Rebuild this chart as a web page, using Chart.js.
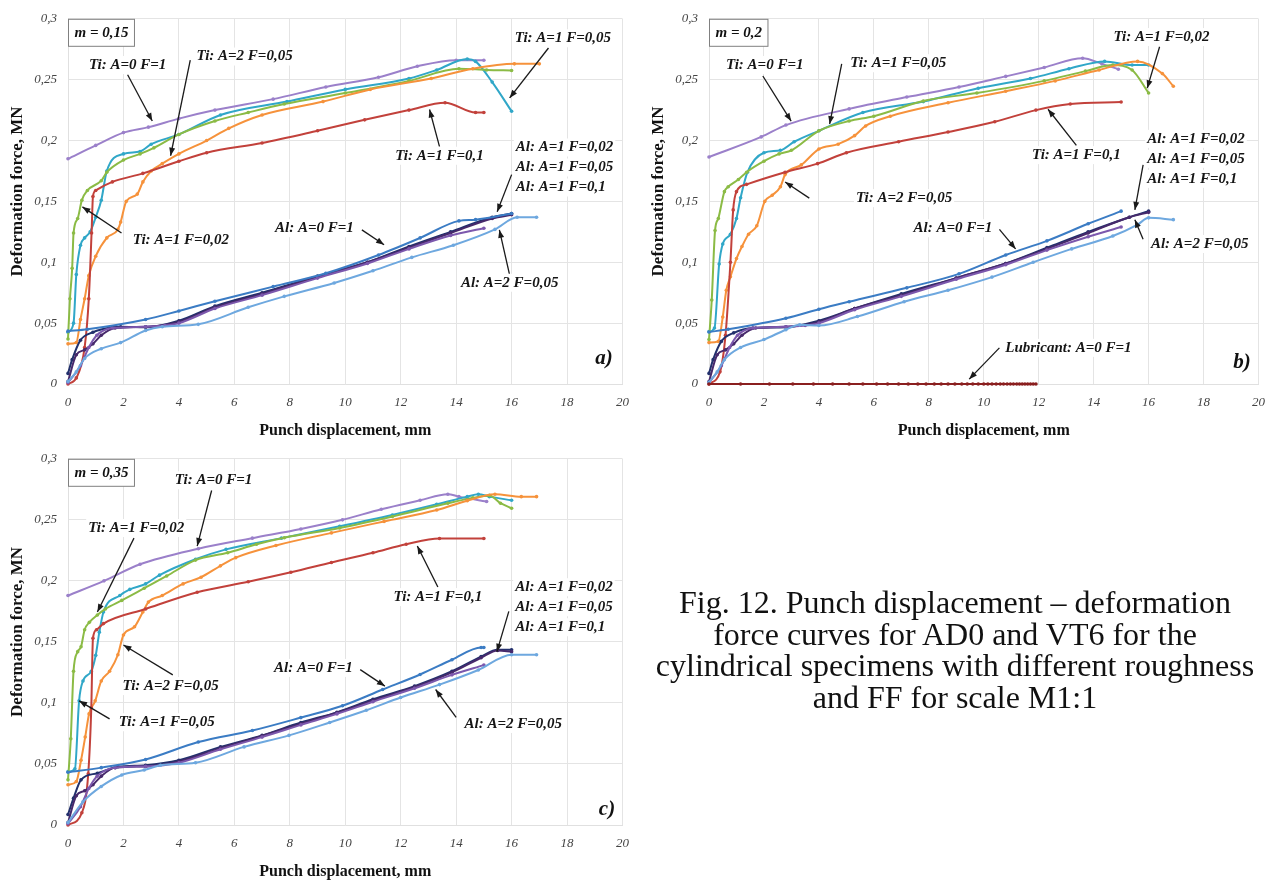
<!DOCTYPE html>
<html>
<head>
<meta charset="utf-8">
<script src="https://cdn.jsdelivr.net/npm/chart.js"></script>
<style>
  body { margin: 0; background: #fff; width: 1276px; height: 881px; position: relative; overflow: hidden; }
  canvas { position: absolute; }
  #cap { position: absolute; left: 615px; top: 587px; width: 680px; text-align: center;
         font: 32px/31.5px "Liberation Serif", "Times New Roman", serif; color: #111; }
</style>
</head>
<body>
<canvas id="ca" width="640" height="445" style="left:0;top:0"></canvas>
<canvas id="cb" width="636" height="445" style="left:640px;top:0"></canvas>
<canvas id="cc" width="640" height="441" style="left:0;top:440px"></canvas>
<div id="cap">Fig. 12. Punch displacement – deformation<br>force curves for AD0 and VT6 for the<br>cylindrical specimens with different roughness<br>and FF for scale M1:1</div>
<script>
// axis ticks
const xTicks = [0, 2, 4, 6, 8, 10, 12, 14, 16, 18, 20];
const yTicks = [0, 0.05, 0.1, 0.15, 0.2, 0.25, 0.3];

// ---- a) m = 0,15 ----
const a_tiA0F1 = [[0,0.185],[1,0.196],[2,0.2065],[2.9,0.211],[4,0.218],[5.3,0.225],[7.4,0.234],[9.3,0.244],[11.2,0.252],[12.6,0.261],[14,0.266],[15,0.266]];
const a_tiA1F002 = [[0,0.037],[0.07,0.07],[0.15,0.095],[0.2,0.124],[0.35,0.136],[0.5,0.151],[0.7,0.159],[1.2,0.167],[1.4,0.174],[2,0.184],[2.6,0.189],[3.1,0.194],[4,0.205],[5.3,0.216],[6.5,0.223],[7.8,0.23],[10,0.239],[12.3,0.249],[14.1,0.259],[15.1,0.258],[16,0.2575]];
const a_tiA1F005 = [[0,0.0425],[0.2,0.05],[0.3,0.09],[0.45,0.114],[0.6,0.12],[0.8,0.125],[1,0.137],[1.2,0.151],[1.4,0.175],[2,0.189],[2.6,0.191],[3,0.197],[4,0.205],[5.5,0.221],[7.9,0.232],[10,0.242],[12.3,0.251],[13.3,0.258],[14.4,0.267],[14.7,0.265],[15.3,0.248],[16,0.224]];
const a_tiA2F005 = [[0,0.033],[0.3,0.034],[0.45,0.053],[0.6,0.07],[0.75,0.089],[1,0.105],[1.4,0.12],[1.8,0.127],[1.9,0.133],[2.1,0.15],[2.5,0.156],[2.7,0.166],[3,0.175],[3.4,0.181],[4,0.189],[5,0.2],[5.8,0.21],[7,0.221],[9.2,0.232],[10.9,0.242],[13.1,0.251],[14.6,0.259],[16.1,0.263],[17,0.263]];
const a_tiA1F01 = [[0,0],[0.3,0.005],[0.6,0.03],[0.75,0.07],[0.85,0.124],[0.9,0.154],[1,0.159],[1.6,0.166],[2.7,0.173],[4,0.183],[5,0.19],[7,0.198],[9,0.208],[10.7,0.217],[12.3,0.225],[13.6,0.231],[14.7,0.223],[15,0.223]];
const a_alA0F1 = [[0,0.0434],[0.7,0.045],[2.8,0.053],[4,0.06],[5.3,0.068],[7.4,0.08],[9.3,0.091],[11.2,0.106],[12.7,0.12],[14.1,0.134],[14.7,0.135],[16,0.14]];
const a_alA2F005 = [[0,0.002],[0.3,0.01],[0.6,0.021],[1.2,0.029],[1.9,0.034],[2.8,0.044],[3.4,0.047],[4.7,0.049],[6.5,0.063],[7.8,0.072],[9.6,0.083],[11,0.093],[12.4,0.104],[13.9,0.114],[15.4,0.127],[16.2,0.137],[16.9,0.137]];
const a_alA1F002 = [[0,0.0087],[0.15,0.02],[0.45,0.036],[0.9,0.0425],[1.6,0.0466],[1.9,0.047],[2.8,0.0466],[4,0.052],[5.3,0.064],[7,0.075],[9,0.0886],[10.8,0.1],[12.3,0.113],[13.8,0.125],[15.3,0.137],[16,0.14]];
const a_alA1F005 = [[0,0.001],[0.45,0.015],[0.75,0.03],[1.04,0.04],[1.6,0.046],[2.8,0.047],[3.5,0.048],[4,0.05],[5.3,0.062],[7,0.073],[9,0.087],[10.8,0.099],[12.3,0.111],[13.8,0.122],[15,0.128]];
const a_alA1F01 = [[0,0.002],[0.3,0.024],[0.6,0.028],[0.9,0.033],[1.2,0.04],[1.7,0.046],[2.8,0.047],[4,0.051],[5.3,0.063],[7,0.074],[9,0.088],[10.8,0.1],[12.3,0.112],[13.8,0.124],[15.3,0.136],[16,0.139]];

// ---- b) m = 0,2 ----
const b_tiA0F1 = [[0,0.1865],[1.9,0.203],[2.8,0.2127],[5.1,0.226],[7.2,0.2357],[9.1,0.244],[10.8,0.2527],[12.2,0.26],[13.6,0.2676],[14.3,0.263],[14.9,0.2586]];
const b_tiA1F002 = [[0,0.0365],[0.1,0.069],[0.22,0.126],[0.34,0.136],[0.56,0.158],[0.7,0.162],[1.07,0.168],[1.37,0.174],[2,0.183],[2.55,0.189],[3,0.192],[4,0.208],[5.1,0.216],[6,0.22],[7.8,0.2325],[9.75,0.239],[12.2,0.249],[13.7,0.257],[14.7,0.262],[15.4,0.258],[16,0.239]];
const b_tiA1F005 = [[0,0.043],[0.2,0.046],[0.37,0.0986],[0.5,0.115],[0.78,0.123],[1,0.136],[1.15,0.153],[1.4,0.174],[2,0.19],[2.6,0.192],[3.1,0.199],[4,0.208],[5.6,0.223],[7.8,0.232],[9.8,0.243],[11.7,0.251],[13.1,0.259],[14.4,0.265],[15.4,0.262],[16,0.262]];
const b_tiA2F005 = [[0,0.034],[0.34,0.035],[0.5,0.055],[0.63,0.077],[0.78,0.088],[1,0.103],[1.2,0.113],[1.44,0.123],[1.74,0.13],[2.03,0.15],[2.3,0.155],[2.6,0.162],[2.77,0.172],[3.36,0.18],[4,0.193],[4.7,0.197],[5.3,0.204],[5.7,0.212],[6.6,0.22],[8.7,0.231],[10.8,0.2405],[12.6,0.249],[14.2,0.258],[15.6,0.265],[16.5,0.255],[16.9,0.2446]];
const b_tiA1F01 = [[0,0],[0.4,0.01],[0.6,0.04],[0.78,0.1],[0.88,0.143],[1,0.158],[1.37,0.164],[2.77,0.174],[3.95,0.181],[5,0.19],[6.9,0.199],[8.7,0.207],[10.4,0.2154],[11.9,0.225],[13.15,0.23],[15,0.2316]];
const b_alA0F1 = [[0,0.0427],[0.7,0.045],[2.8,0.054],[4,0.0614],[5.1,0.0676],[7.2,0.079],[9.1,0.0905],[10.8,0.106],[12.3,0.1176],[13.8,0.1316],[15,0.142]];
const b_alA2F005 = [[0,0.0014],[0.3,0.01],[0.56,0.02],[1.15,0.03],[2,0.0365],[2.8,0.0446],[3.3,0.0486],[4,0.048],[5.4,0.0554],[7.1,0.0676],[8.7,0.077],[10.3,0.0878],[11.8,0.1],[13.2,0.111],[14.7,0.1216],[15.6,0.131],[16,0.1365],[16.9,0.135]];
const b_alA1F002 = [[0,0.0087],[0.15,0.02],[0.45,0.035],[0.9,0.042],[1.6,0.046],[2.8,0.0466],[4,0.052],[5.3,0.062],[7,0.074],[9,0.087],[10.8,0.099],[12.3,0.112],[13.8,0.125],[15.3,0.137],[16,0.142]];
const b_alA1F005 = [[0,0.001],[0.45,0.015],[0.75,0.03],[1.04,0.04],[1.6,0.046],[2.8,0.047],[3.5,0.048],[4,0.05],[5.3,0.061],[7,0.072],[9,0.086],[10.8,0.098],[12.3,0.11],[13.8,0.121],[15,0.129]];
const b_alA1F01 = [[0,0.002],[0.3,0.024],[0.6,0.028],[0.9,0.033],[1.2,0.04],[1.7,0.046],[2.8,0.047],[4,0.051],[5.3,0.062],[7,0.073],[9,0.087],[10.8,0.099],[12.3,0.111],[13.8,0.124],[15.3,0.137],[16,0.141]];
const b_lubricant = [[0,0],[1.15,0],[2.2,0],[3.05,0],[3.8,0],[4.5,0],[5.1,0],[5.6,0],[6.1,0],[6.5,0],[6.9,0],[7.25,0],[7.6,0],[7.9,0],[8.2,0],[8.45,0],[8.7,0],[8.95,0],[9.2,0],[9.4,0],[9.6,0],[9.8,0],[10,0],[10.15,0],[10.3,0],[10.45,0],[10.6,0],[10.72,0],[10.85,0],[10.97,0],[11.08,0],[11.2,0],[11.3,0],[11.4,0],[11.5,0],[11.6,0],[11.7,0],[11.8,0],[11.9,0]];

// ---- c) m = 0,35 ----
const c_tiA0F1 = [[0,0.188],[1.3,0.2],[2.6,0.2136],[4.7,0.2263],[6.65,0.235],[8.4,0.2425],[9.9,0.25],[11.3,0.2587],[12.7,0.266],[13.7,0.271],[14.1,0.269],[15.1,0.265]];
const c_tiA1F002 = [[0,0.037],[0.1,0.0707],[0.2,0.126],[0.35,0.142],[0.47,0.146],[0.6,0.16],[0.77,0.166],[1.06,0.172],[1.35,0.177],[1.94,0.184],[2.75,0.194],[3.56,0.204],[4.6,0.217],[5.76,0.223],[6.8,0.23],[7.8,0.2353],[9.8,0.2433],[11.7,0.2527],[13.7,0.2636],[14.6,0.268],[15.2,0.27],[15.6,0.2636],[16,0.2595]];
const c_tiA1F005 = [[0,0.0437],[0.25,0.046],[0.4,0.1017],[0.54,0.118],[0.84,0.126],[1,0.139],[1.13,0.158],[1.28,0.1745],[1.87,0.188],[2.23,0.193],[2.8,0.1975],[3.3,0.2047],[4.6,0.2177],[5.7,0.2258],[7.7,0.235],[9.8,0.2447],[11.7,0.254],[13.3,0.2627],[14.4,0.269],[14.8,0.271],[15.2,0.269],[16,0.266]];
const c_tiA2F005 = [[0,0.033],[0.3,0.0356],[0.47,0.053],[0.62,0.072],[0.76,0.091],[0.98,0.1017],[1.2,0.118],[1.5,0.126],[1.8,0.1395],[2,0.1557],[2.4,0.1624],[2.7,0.1745],[2.9,0.1826],[3.4,0.188],[4.15,0.1975],[4.8,0.203],[5.5,0.2123],[6.05,0.219],[7.5,0.229],[9.5,0.2393],[11.4,0.2487],[13.3,0.258],[14.4,0.2657],[15.4,0.271],[16.35,0.269],[16.9,0.269]];
const c_tiA1F01 = [[0,0],[0.5,0.01],[0.73,0.042],[0.84,0.096],[0.9,0.153],[1.03,0.16],[1.28,0.165],[2.8,0.177],[4.66,0.1907],[6.5,0.1993],[8.04,0.207],[9.5,0.215],[11,0.223],[12.2,0.23],[13.4,0.2347],[15,0.2347]];
const c_alA0F1 = [[0,0.0432],[1.2,0.047],[2.8,0.0537],[4.7,0.068],[6.65,0.0774],[8.4,0.088],[9.9,0.0977],[11.35,0.111],[12.7,0.1233],[13.85,0.1354],[14.9,0.1454],[15,0.1454]];
const c_alA2F005 = [[0,0.002],[0.54,0.019],[1.2,0.0316],[1.94,0.041],[2.75,0.045],[3.34,0.049],[4.6,0.051],[6.35,0.064],[7.97,0.0734],[9.44,0.084],[10.76,0.094],[12,0.1044],[13.4,0.115],[14.8,0.127],[16,0.1395],[16.9,0.1395]];
const c_alA1F002 = [[0,0.0086],[0.2,0.022],[0.47,0.037],[1.06,0.0424],[1.8,0.0477],[2.8,0.049],[4,0.053],[5.5,0.064],[7,0.0734],[8.4,0.084],[9.7,0.0923],[11,0.103],[12.5,0.1138],[13.85,0.126],[14.9,0.138],[15.5,0.1435],[16,0.1435]];
const c_alA1F005 = [[0,0.001],[0.45,0.015],[0.75,0.03],[1.05,0.04],[1.7,0.047],[2.8,0.048],[4,0.051],[5.5,0.062],[7,0.072],[8.4,0.082],[9.7,0.091],[11,0.101],[12.5,0.112],[13.85,0.123],[15,0.131]];
const c_alA1F01 = [[0,0.002],[0.3,0.024],[0.6,0.028],[0.9,0.033],[1.2,0.04],[1.7,0.047],[2.8,0.048],[4,0.052],[5.5,0.063],[7,0.073],[8.4,0.083],[9.7,0.092],[11,0.102],[12.5,0.113],[13.85,0.125],[14.9,0.137],[15.5,0.143],[16,0.142]];

const COL = {
  tiA0F1: '#9b80ca', tiA1F002: '#8bbb45', tiA1F005: '#30a7c8', tiA2F005: '#f6923b', tiA1F01: '#c2413b',
  alA0F1: '#3b7cc4', alA2F005: '#6ea8df', alA1F002: '#22306c', alA1F005: '#7c58ad', alA1F01: '#47296b',
  lub: '#8a1f1f'
};

const aSeries = [
  ['Al: A=2 F=0,05', a_alA2F005, COL.alA2F005], ['Al: A=0 F=1', a_alA0F1, COL.alA0F1],
  ['Al: A=1 F=0,05', a_alA1F005, COL.alA1F005], ['Al: A=1 F=0,1', a_alA1F01, COL.alA1F01],
  ['Al: A=1 F=0,02', a_alA1F002, COL.alA1F002],
  ['Ti: A=1 F=0,1', a_tiA1F01, COL.tiA1F01], ['Ti: A=2 F=0,05', a_tiA2F005, COL.tiA2F005],
  ['Ti: A=1 F=0,02', a_tiA1F002, COL.tiA1F002], ['Ti: A=1 F=0,05', a_tiA1F005, COL.tiA1F005],
  ['Ti: A=0 F=1', a_tiA0F1, COL.tiA0F1]
];
const bSeries = [
  ['Lubricant: A=0 F=1', b_lubricant, COL.lub],
  ['Al: A=2 F=0,05', b_alA2F005, COL.alA2F005], ['Al: A=0 F=1', b_alA0F1, COL.alA0F1],
  ['Al: A=1 F=0,05', b_alA1F005, COL.alA1F005], ['Al: A=1 F=0,1', b_alA1F01, COL.alA1F01],
  ['Al: A=1 F=0,02', b_alA1F002, COL.alA1F002],
  ['Ti: A=1 F=0,1', b_tiA1F01, COL.tiA1F01], ['Ti: A=2 F=0,05', b_tiA2F005, COL.tiA2F005],
  ['Ti: A=1 F=0,02', b_tiA1F002, COL.tiA1F002], ['Ti: A=1 F=0,05', b_tiA1F005, COL.tiA1F005],
  ['Ti: A=0 F=1', b_tiA0F1, COL.tiA0F1]
];
const cSeries = [
  ['Al: A=2 F=0,05', c_alA2F005, COL.alA2F005], ['Al: A=0 F=1', c_alA0F1, COL.alA0F1],
  ['Al: A=1 F=0,05', c_alA1F005, COL.alA1F005], ['Al: A=1 F=0,1', c_alA1F01, COL.alA1F01],
  ['Al: A=1 F=0,02', c_alA1F002, COL.alA1F002],
  ['Ti: A=1 F=0,1', c_tiA1F01, COL.tiA1F01], ['Ti: A=2 F=0,05', c_tiA2F005, COL.tiA2F005],
  ['Ti: A=1 F=0,02', c_tiA1F002, COL.tiA1F002], ['Ti: A=1 F=0,05', c_tiA1F005, COL.tiA1F005],
  ['Ti: A=0 F=1', c_tiA0F1, COL.tiA0F1]
];

// callouts: text position and arrow in data units
const alGroup = ['Al: A=1 F=0,02', 'Al: A=1 F=0,05', 'Al: A=1 F=0,1'];
const aNotes = [
  { t: ['Ti: A=0 F=1'], at: [2.15, 0.262], from: [2.15, 0.254], to: [3.04, 0.216] },
  { t: ['Ti: A=2 F=0,05'], at: [6.37, 0.269], from: [4.41, 0.266], to: [3.7, 0.1875] },
  { t: ['Ti: A=1 F=0,05'], at: [17.85, 0.284], from: [17.33, 0.276], to: [15.93, 0.235] },
  { t: ['Ti: A=1 F=0,1'], at: [13.4, 0.1875], from: [13.4, 0.195], to: [13.04, 0.2255] },
  { t: ['Ti: A=1 F=0,02'], at: [4.07, 0.1184], from: [1.93, 0.124], to: [0.52, 0.1455] },
  { t: ['Al: A=0 F=1'], at: [8.89, 0.128], from: [10.6, 0.1266], to: [11.4, 0.1144] },
  { t: alGroup, at: [16.15, 0.1943], left: true, from: [16, 0.172], to: [15.48, 0.1415] },
  { t: ['Al: A=2 F=0,05'], at: [15.93, 0.0832], from: [15.93, 0.0895], to: [15.56, 0.1266] }
];
const bNotes = [
  { t: ['Ti: A=0 F=1'], at: [2.03, 0.262], from: [1.96, 0.253], to: [2.99, 0.216] },
  { t: ['Ti: A=1 F=0,05'], at: [6.89, 0.2635], from: [4.83, 0.263], to: [4.39, 0.2135] },
  { t: ['Ti: A=1 F=0,02'], at: [16.47, 0.285], from: [16.4, 0.277], to: [15.95, 0.243] },
  { t: ['Ti: A=1 F=0,1'], at: [13.37, 0.188], from: [13.37, 0.196], to: [12.34, 0.2257] },
  { t: ['Ti: A=2 F=0,05'], at: [7.1, 0.1527], from: [3.65, 0.1527], to: [2.77, 0.166] },
  { t: ['Al: A=0 F=1'], at: [8.88, 0.128], from: [10.57, 0.127], to: [11.16, 0.111] },
  { t: alGroup, at: [15.95, 0.2014], left: true, from: [15.8, 0.18], to: [15.5, 0.143] },
  { t: ['Al: A=2 F=0,05'], at: [17.86, 0.115], from: [15.8, 0.119], to: [15.5, 0.135] },
  { t: ['Lubricant: A=0 F=1'], at: [13.08, 0.0297], from: [10.57, 0.0297], to: [9.47, 0.004] }
];
const cNotes = [
  { t: ['Ti: A=0 F=1'], at: [5.25, 0.2824], from: [5.18, 0.274], to: [4.66, 0.2285] },
  { t: ['Ti: A=1 F=0,02'], at: [2.46, 0.2433], from: [2.38, 0.235], to: [1.06, 0.1745] },
  { t: ['Ti: A=1 F=0,1'], at: [13.34, 0.1867], from: [13.34, 0.195], to: [12.6, 0.2285] },
  { t: ['Ti: A=2 F=0,05'], at: [3.7, 0.1138], from: [3.78, 0.123], to: [2.0, 0.1475] },
  { t: ['Ti: A=1 F=0,05'], at: [3.56, 0.0842], from: [1.5, 0.0869], to: [0.4, 0.1017] },
  { t: ['Al: A=0 F=1'], at: [8.85, 0.1287], from: [10.54, 0.1273], to: [11.43, 0.1138] },
  { t: alGroup, at: [16.13, 0.1948], left: true, from: [15.9, 0.175], to: [15.47, 0.142] },
  { t: ['Al: A=2 F=0,05'], at: [16.06, 0.0828], from: [14, 0.0882], to: [13.26, 0.111] }
];

const SERIF = '"Liberation Serif", "Times New Roman", serif';

function notesPlugin(notes, mText, tag, tagPos) {
  return {
    id: 'notes',
    afterDraw(chart) {
      const { ctx, chartArea: ca } = chart;
      const xs = chart.scales.x, ys = chart.scales.y;
      const px = v => xs.getPixelForValue(v), py = v => ys.getPixelForValue(v);
      ctx.save();
      ctx.fillStyle = '#111';
      ctx.textAlign = 'center';
      ctx.textBaseline = 'middle';

      // axis titles
      ctx.font = 'bold 16px ' + SERIF;
      ctx.fillText('Punch displacement, mm', (ca.left + ca.right) / 2, ca.bottom + 47);
      ctx.save();
      ctx.translate(ca.left - 50, (ca.top + ca.bottom) / 2 - 10);
      ctx.rotate(-Math.PI / 2);
      ctx.font = 'bold 17px ' + SERIF;
      ctx.fillText('Deformation force, MN', 0, 0);
      ctx.restore();

      // m box
      ctx.font = 'italic bold 15px ' + SERIF;
      const mw = ctx.measureText(mText).width + 12;
      ctx.fillStyle = '#fff';
      ctx.fillRect(ca.left + 0.5, ca.top + 0.5, mw, 27);
      ctx.strokeStyle = '#808080';
      ctx.lineWidth = 1;
      ctx.strokeRect(ca.left + 0.5, ca.top + 0.5, mw, 27);
      ctx.fillStyle = '#111';
      ctx.fillText(mText, ca.left + 0.5 + mw / 2, ca.top + 14.5);

      // callouts
      notes.forEach(n => {
        const x1 = px(n.from[0]), y1 = py(n.from[1]);
        const x2 = px(n.to[0]), y2 = py(n.to[1]);
        ctx.strokeStyle = '#1a1a1a';
        ctx.lineWidth = 1.3;
        ctx.beginPath(); ctx.moveTo(x1, y1); ctx.lineTo(x2, y2); ctx.stroke();
        const ang = Math.atan2(y2 - y1, x2 - x1);
        ctx.fillStyle = '#1a1a1a';
        ctx.beginPath();
        ctx.moveTo(x2, y2);
        ctx.lineTo(x2 - 8 * Math.cos(ang) + 3 * Math.sin(ang), y2 - 8 * Math.sin(ang) - 3 * Math.cos(ang));
        ctx.lineTo(x2 - 8 * Math.cos(ang) - 3 * Math.sin(ang), y2 - 8 * Math.sin(ang) + 3 * Math.cos(ang));
        ctx.closePath(); ctx.fill();

        ctx.font = 'italic bold 15px ' + SERIF;
        n.t.forEach((line, i) => {
          const tx = px(n.at[0]), ty = py(n.at[1]) + i * 20;
          const w = ctx.measureText(line).width;
          const lx = n.left ? tx : tx - w / 2;
          ctx.fillStyle = '#fff';
          ctx.fillRect(lx - 2, ty - 9, w + 4, 18);
          ctx.fillStyle = '#161616';
          ctx.textAlign = 'left';
          ctx.fillText(line, lx, ty);
          ctx.textAlign = 'center';
        });
      });

      // panel tag
      ctx.font = 'italic bold 21px ' + SERIF;
      ctx.fillStyle = '#111';
      ctx.fillText(tag, px(tagPos[0]), py(tagPos[1]));
      ctx.restore();
    }
  };
}

function makeChart(id, series, notes, mText, tag, tagPos, lay) {
  const ctx = document.getElementById(id);
  new Chart(ctx, {
    type: 'line',
    data: {
      datasets: series.map(([label, data, color]) => ({
        label, data,
        borderColor: color,
        backgroundColor: color,
        borderWidth: 2,
        pointRadius: 1.8,
        pointBorderWidth: 0,
        pointBackgroundColor: color,
        cubicInterpolationMode: 'monotone',
        fill: false,
        clip: false
      }))
    },
    options: {
      responsive: false,
      animation: false,
      events: [],
      layout: { padding: { left: 0, right: lay.padR, top: lay.padT, bottom: 0 } },
      plugins: { legend: { display: false }, tooltip: { enabled: false } },
      scales: {
        x: {
          type: 'linear', min: 0, max: 20,
          afterBuildTicks: s => { s.ticks = xTicks.map(v => ({ value: v })); },
          afterFit: s => { s.height = lay.xH; },
          grid: { color: '#e4e4e4', lineWidth: 1, drawTicks: false },
          border: { color: '#e0e0e0' },
          ticks: { padding: 11, color: '#444', font: { family: SERIF, style: 'italic', size: 13 } }
        },
        y: {
          type: 'linear', min: 0, max: 0.3,
          afterBuildTicks: s => { s.ticks = yTicks.map(v => ({ value: v })); },
          afterFit: s => { s.width = lay.yW; },
          grid: { color: '#e4e4e4', lineWidth: 1, drawTicks: false },
          border: { color: '#e0e0e0' },
          ticks: {
            padding: 11, color: '#444', font: { family: SERIF, style: 'italic', size: 13 },
            callback: v => String(Math.round(v * 100) / 100).replace('.', ',')
          }
        }
      }
    },
    plugins: [notesPlugin(notes, mText, tag, tagPos)]
  });
}

makeChart('ca', aSeries, aNotes, 'm = 0,15', 'a)', [19.33, 0.021], { padR: 17, padT: 16, xH: 61, yW: 68 });
makeChart('cb', bSeries, bNotes, 'm = 0,2', 'b)', [19.4, 0.0176], { padR: 13, padT: 15, xH: 61, yW: 69 });
makeChart('cc', cSeries, cNotes, 'm = 0,35', 'c)', [19.44, 0.0127], { padR: 15, padT: 15, xH: 56, yW: 68 });
</script>
</body>
</html>
